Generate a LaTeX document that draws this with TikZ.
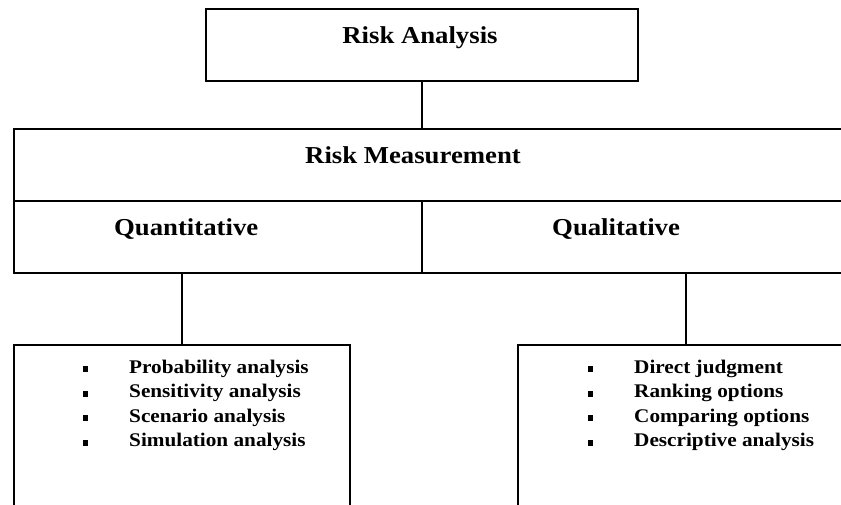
\documentclass[tikz,border=0pt]{standalone}
\usepackage{fontspec}
\setmainfont{Liberation Serif}[FakeStretch=1.1]
\begin{document}
\begin{tikzpicture}[x=1pt,y=-1pt,
  boxline/.style={draw=black, line width=1.8pt, inner sep=0pt, anchor=north west},
  link/.style={draw=black, line width=1.5pt},
  head/.style={font=\fontsize{24.3}{28}\selectfont\bfseries, inner sep=0pt},
  item/.style={font=\fontsize{19.3}{23}\selectfont\bfseries, inner sep=0pt, anchor=base west},
  sq/.style={fill=black, inner sep=0pt, minimum width=5pt, minimum height=6pt}]
\useasboundingbox (0,0) rectangle (841,504);
\clip (0,0) rectangle (841,504);

% top box
\node[boxline, minimum width=432pt, minimum height=72pt] (ra) at (205,8) {};
\node[head, anchor=base] (raT) at (420,43) {Risk Analysis};

% measurement box with its two halves
\node[boxline, minimum width=847pt, minimum height=72pt] (rm) at (13,128) {};
\node[head, anchor=base] (rmT) at (413,163) {Risk Measurement};
\node[boxline, minimum width=408pt, minimum height=72pt] (qn) at (13,200) {};
\node[boxline, minimum width=439pt, minimum height=72pt] (ql) at (421,200) {};
\node[head, anchor=base west] (qnT) at (114,235) {Quantitative};
\node[head, anchor=base west] (qlT) at (552,235) {Qualitative};

% lower boxes
\node[boxline, minimum width=336pt, minimum height=190pt] (lb) at (13,344) {};
\node[boxline, minimum width=336pt, minimum height=190pt] (rb) at (517,344) {};

% connectors
\draw[link] (ra.south) -- (ra.south |- rm.north);
\draw[link] (lb.north) -- (lb.north |- qn.south);
\draw[link] (rb.north) -- (rb.north |- ql.south);

% quantitative methods
\foreach \t [count=\i from 0] in {Probability analysis, Sensitivity analysis, Scenario analysis, Simulation analysis}{
  \node[sq] (lq\i) at (85.5,369+24.6*\i) {};
  \node[item] (lt\i) at (129,373+24.6*\i) {\t};
}
% qualitative methods
\foreach \t [count=\i from 0] in {Direct judgment, Ranking options, Comparing options, Descriptive analysis}{
  \node[sq] (rq\i) at (590.5,369+24.6*\i) {};
  \node[item] (rt\i) at (634,373+24.6*\i) {\t};
}
\end{tikzpicture}
\end{document}
